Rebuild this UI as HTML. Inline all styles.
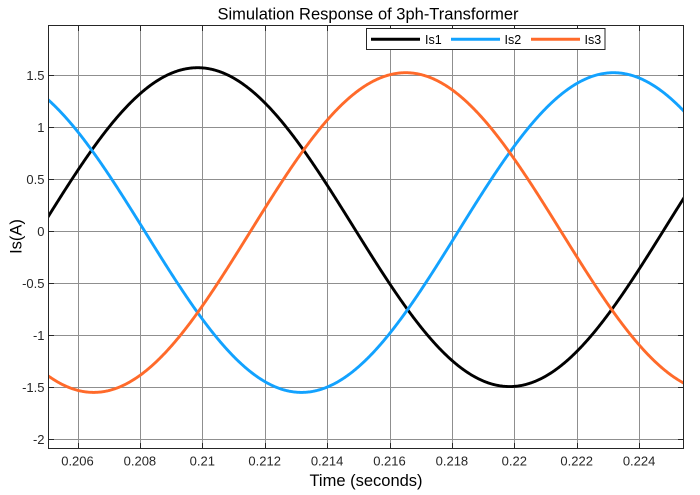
<!DOCTYPE html>
<html>
<head>
<meta charset="utf-8">
<style>
  html,body{margin:0;padding:0;background:#fff;}
  body{width:700px;height:495px;overflow:hidden;}
  svg{display:block;}
  text{font-family:"Liberation Sans",Arial,sans-serif;fill:#262626;}
</style>
</head>
<body>
<svg id="chart" width="700" height="495" viewBox="0 0 700 495" xmlns="http://www.w3.org/2000/svg">
  <defs>
    <clipPath id="plotclip"><rect x="48" y="25" width="636" height="424"/></clipPath>
  </defs>
  <rect x="0" y="0" width="700" height="495" fill="#ffffff"/>
  <rect x="48" y="25" width="636" height="424" fill="#ffffff"/>
  <g id="grid" stroke="#8f8f8f" stroke-width="1" shape-rendering="crispEdges"></g>
  <g id="ticks" stroke="#262626" stroke-width="1" shape-rendering="crispEdges"></g>
  <g clip-path="url(#plotclip)" fill="none" stroke-width="2.9" stroke-linejoin="round" stroke-linecap="round">
    <path id="s1" stroke="#000000"/>
    <path id="s2" stroke="#12a2ff"/>
    <path id="s3" stroke="#ff6a2a"/>
  </g>
  <rect x="48.5" y="25.5" width="635" height="423" fill="none" stroke="#262626" stroke-width="1" shape-rendering="crispEdges"/>
  <g id="labels" font-size="13"></g>

  <text x="368" y="19.3" font-size="16.5" text-anchor="middle" style="fill:#000">Simulation Response of 3ph-Transformer</text>
  <text x="366" y="486" font-size="16.5" text-anchor="middle" style="fill:#000">Time (seconds)</text>
  <text transform="translate(21.5,236.5) rotate(-90)" font-size="16.5" text-anchor="middle" style="fill:#000">Is(A)</text>

  <!-- legend -->
  <rect x="366.5" y="28.5" width="238.5" height="21" fill="#ffffff" stroke="#262626" stroke-width="1" shape-rendering="crispEdges"/>
  <line x1="371" y1="39.3" x2="420" y2="39.3" stroke="#000000" stroke-width="3"/>
  <text x="425" y="43.8" font-size="12.5" style="fill:#000">Is1</text>
  <line x1="451" y1="39.3" x2="500" y2="39.3" stroke="#12a2ff" stroke-width="3"/>
  <text x="504.5" y="43.8" font-size="12.5" style="fill:#000">Is2</text>
  <line x1="531" y1="39.3" x2="580" y2="39.3" stroke="#ff6a2a" stroke-width="3"/>
  <text x="584.5" y="43.8" font-size="12.5" style="fill:#000">Is3</text>
</svg>
<script>
(function(){
  var NS="http://www.w3.org/2000/svg";
  function X(t){return 77.5+(t-0.206)/0.002*62.4;}
  function Y(v){return 231.3-v*104;}
  var grid=document.getElementById('grid');
  var ticks=document.getElementById('ticks');
  var labels=document.getElementById('labels');
  function line(g,x1,y1,x2,y2){var l=document.createElementNS(NS,'line');l.setAttribute('x1',x1);l.setAttribute('y1',y1);l.setAttribute('x2',x2);l.setAttribute('y2',y2);g.appendChild(l);}
  function txt(x,y,s,anchor){var t=document.createElementNS(NS,'text');t.setAttribute('x',x);t.setAttribute('y',y);t.setAttribute('text-anchor',anchor);t.textContent=s;labels.appendChild(t);}
  var xl=["0.206","0.208","0.21","0.212","0.214","0.216","0.218","0.22","0.222","0.224"];
  for(var i=0;i<10;i++){
    var t=0.206+i*0.002;var x=Math.round(X(t))+0.5;
    line(grid,x,25,x,449);
    line(ticks,x,449,x,443);line(ticks,x,25,x,31);
    txt(X(t),465.5,xl[i],'middle');
  }
  var yl=["-2","-1.5","-1","-0.5","0","0.5","1","1.5"];
  for(var j=0;j<8;j++){
    var v=-2+j*0.5;var y=Math.round(Y(v))+0.5;
    line(grid,48,y,684,y);
    line(ticks,48,y,54,y);line(ticks,684,y,678,y);
    txt(44.5,Y(v)+4.5,yl[j],'end');
  }
  function series(id,off,amp,tp){
    var d="";
    for(var k=0;k<=800;k++){
      var t=0.2048+k*(0.2258-0.2048)/800;
      var v=off+amp*Math.cos(2*Math.PI*(t-tp)/0.02);
      d+=(k?"L":"M")+X(t).toFixed(2)+","+Y(v).toFixed(2);
    }
    document.getElementById(id).setAttribute('d',d);
  }
  series('s1',0.04,1.533,0.20985);
  series('s2',-0.012,1.537,0.22318);
  series('s3',-0.012,1.537,0.21652);
})();
</script>
</body>
</html>
